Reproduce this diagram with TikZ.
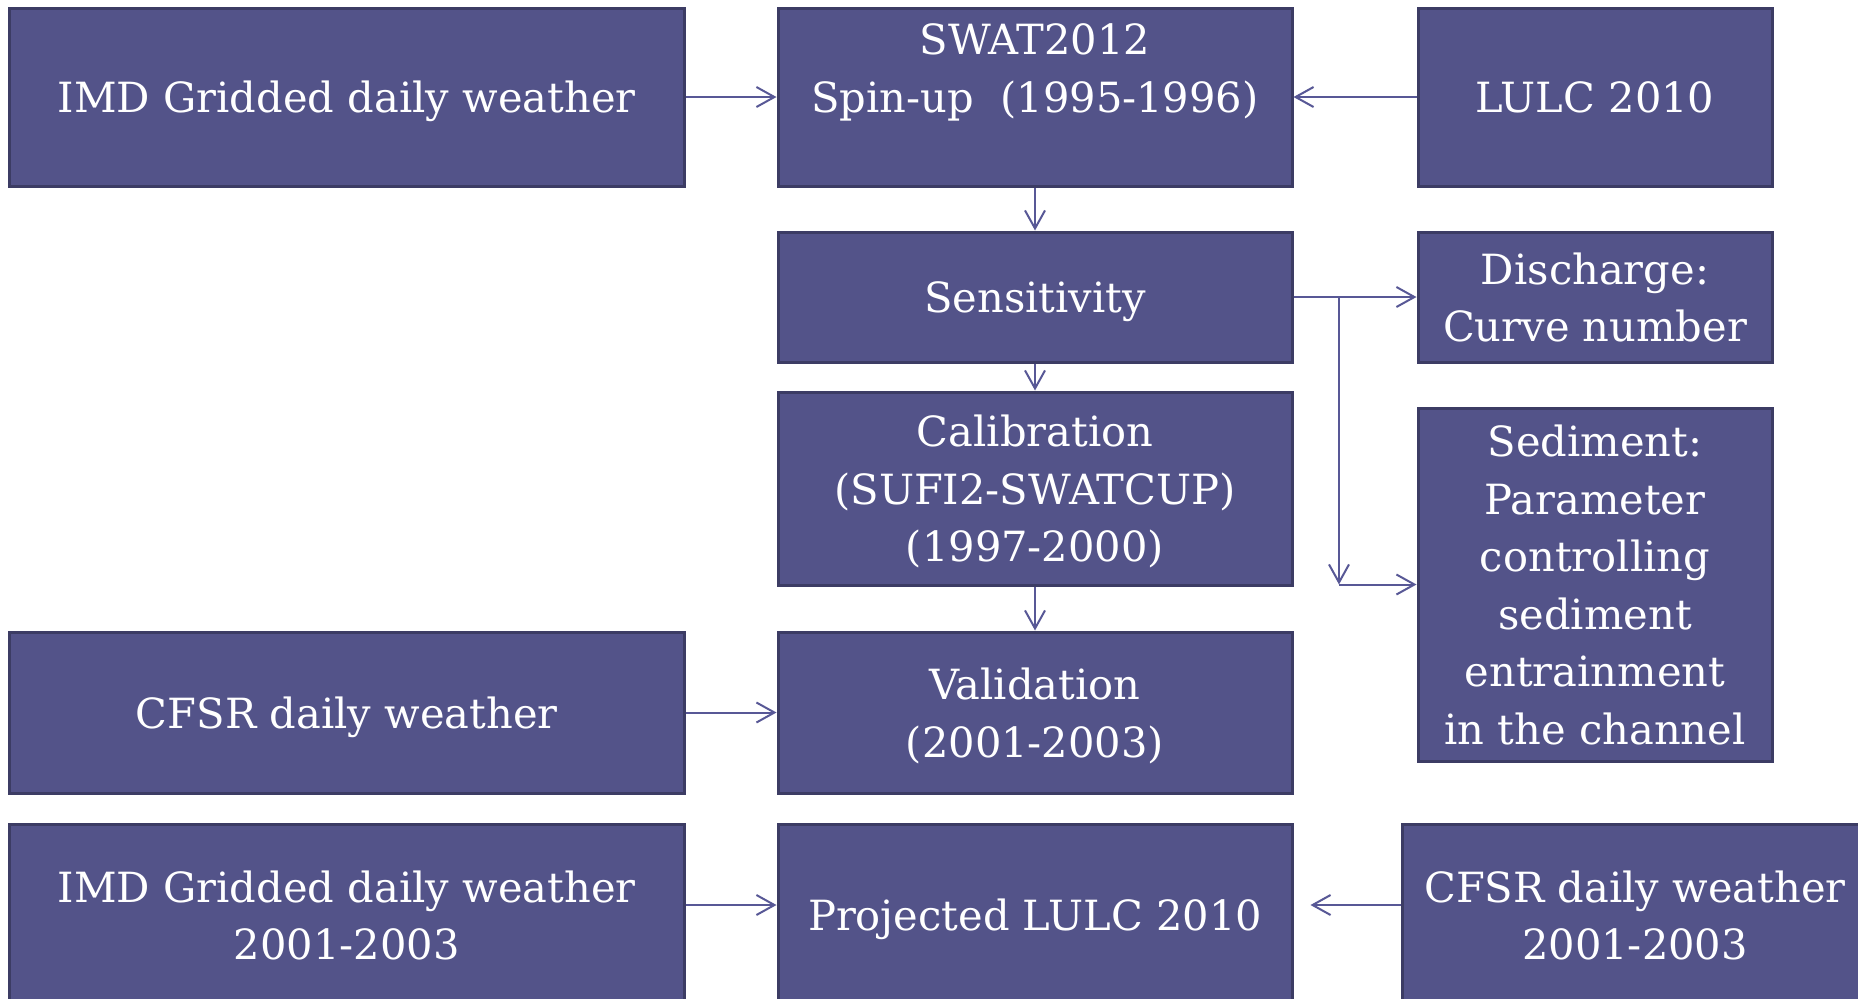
\documentclass[tikz,border=0pt]{standalone}
\usepackage{fontspec}
\setmainfont{DejaVu Serif}
\usetikzlibrary{arrows.meta}
\definecolor{boxfill}{RGB}{83,83,137}
\definecolor{boxline}{RGB}{60,60,100}
\definecolor{arrline}{RGB}{88,88,150}

\begin{document}
\begin{tikzpicture}[x=0.5pt,y=-0.5pt,
  blk/.style n args={2}{draw=boxline,line width=1.5pt,fill=boxfill,text=white,align=center,inner sep=0pt,text depth=0pt,minimum width=#1*0.5pt,minimum height=#2*0.5pt,font=\fontsize{20.8}{28.75}\selectfont},
  arr/.style={arrline,line width=1pt,-{Straight Barb[length=9pt,width=10pt]}}]
\path[use as bounding box,fill=white] (0,0) rectangle (1858,998);
% top row
\node[blk={674.5}{178}] (imdtop) at (346.75,97) {IMD Gridded daily weather};
\node[blk={514}{178}] (swat) at (1035,97) {SWAT2012\\Spin-up\ \ (1995-1996)\\\mbox{}};
\node[blk={354}{178}] (lulc) at (1595,97) {LULC 2010};
% model steps
\node[blk={514}{130}] (sens) at (1035,297) {Sensitivity};
\node[blk={354}{130}] (disch) at (1595,297) {Discharge:\\Curve number};
\node[blk={514}{193}] (calib) at (1035,488.5) {Calibration\\(SUFI2-SWATCUP)\\(1997-2000)};
\node[blk={354}{353}] (sedim) at (1595,584.5) {Sediment:\\Parameter\\controlling\\sediment\\entrainment\\in the channel};
\node[blk={674.5}{161}] (cfsr) at (346.75,712.5) {CFSR daily weather};
\node[blk={514}{161}] (valid) at (1035,712.5) {Validation\\(2001-2003)};
% bottom row
\node[blk={674.5}{182}] (imdbot) at (346.75,915) {IMD Gridded daily weather\\2001-2003};
\node[blk={514}{182}] (proj) at (1035,915) {Projected LULC 2010};
\node[blk={466}{182}] (cfsrbot) at (1635,915) {CFSR daily weather\\2001-2003};

\draw[arr] (imdtop) -- (swat);
\draw[arr] (lulc) -- (swat);
\foreach \a/\b in {swat/sens,sens/calib,calib/valid} {
  \draw[arr] (\a) -- (\b);
}
\draw[arr] (sens) -- (disch);
\coordinate (split) at (1339,297);
\draw[arr] (split) -- (split |- sedim.west);
\draw[arr] (split |- sedim.west) -- (sedim.west);
\draw[arr] (cfsr) -- (valid);
\draw[arr] ([yshift=5pt]imdbot.east) -- ([yshift=5pt]proj.west);
\draw[arr,shorten >=8.5pt] ([yshift=5pt]cfsrbot.west) -- ([yshift=5pt]proj.east);
\end{tikzpicture}
\end{document}
